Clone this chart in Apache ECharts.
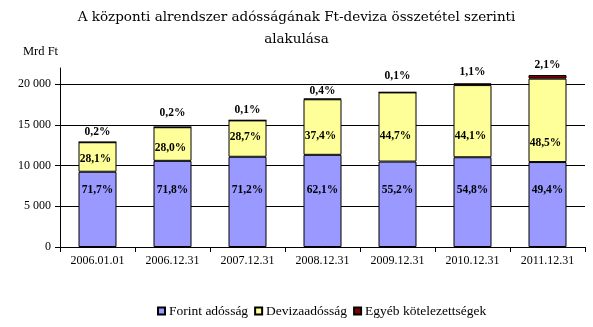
<!DOCTYPE html>
<html>
<head>
<meta charset="utf-8">
<script src="https://cdn.jsdelivr.net/npm/echarts@6/dist/echarts.min.js"></script>
<style>
  html, body { margin: 0; padding: 0; background: #fff; }
  #chart { width: 593px; height: 327px; }
</style>
</head>
<body>
<div id="chart"></div>
<script>
// Central subsystem debt by currency composition (billion HUF)
const categories = ['2006.01.01', '2006.12.31', '2007.12.31', '2008.12.31', '2009.12.31', '2010.12.31', '2011.12.31'];
const forintDebt = [9250, 10590, 11090, 11330, 10500, 11030, 10440];
const fxDebt     = [3625, 4130, 4470, 6825, 8500, 8870, 10250];
const otherLiab  = [26, 30, 16, 73, 19, 221, 444];

// Share labels printed on each segment
const forintShare = ['71,7%', '71,8%', '71,2%', '62,1%', '55,2%', '54,8%', '49,4%'];
const fxShare     = ['28,1%', '28,0%', '28,7%', '37,4%', '44,7%', '44,1%', '48,5%'];
const otherShare  = ['0,2%', '0,2%', '0,1%', '0,4%', '0,1%', '1,1%', '2,1%'];

const seriesNames = ['Forint adósság', 'Devizaadósság', 'Egyéb kötelezettségek'];
const yTicks = [0, 5000, 10000, 15000, 20000];

// Hand-placed label nudges (pixels, downward)
const fxLabelNudge = [1.7, 3.7, -1.9, 9.3, 9.3, 15.1, 22.3];
const otherLabelNudge = [0, -4, 0, 2.5, -6, -1, 0];

const serif = '"Liberation Serif", "Times New Roman", serif';
const wideSerif = '"DejaVu Serif", serif';
const labelFont = { fontFamily: serif, fontWeight: 'bold', fontSize: 11.5, color: '#000' };

function fmtThousands(v) {
  return String(v).replace(/\B(?=(\d{3})+(?!\d))/g, ' ');
}

const chart = echarts.init(document.getElementById('chart'), null, { renderer: 'canvas' });

const barBase = {
  type: 'bar',
  stack: 'total',
  barWidth: 38,
  animation: false
};

chart.setOption({
  backgroundColor: '#fff',
  title: {
    text: 'A központi alrendszer adósságának Ft-deviza összetétel szerinti\nalakulása',
    left: 'center',
    top: 6,
    padding: 0,
    textStyle: { fontFamily: wideSerif, fontWeight: 'normal', fontSize: 13.5, lineHeight: 22, color: '#000' }
  },
  graphic: [{
    type: 'text',
    left: 23,
    top: 45,
    style: { text: 'Mrd Ft', fontFamily: serif, fontSize: 12.5, fill: '#000' }
  }],
  legend: {
    left: 157,
    top: 304,
    padding: 0,
    itemWidth: 7,
    itemHeight: 7,
    itemGap: 6,
    icon: 'rect',
    data: seriesNames,
    textStyle: { fontFamily: serif, fontSize: 13.5, color: '#000', padding: [0, 0, 0, -1] }
  },
  grid: { left: 60, right: 8, top: 68, bottom: 80, containLabel: false },
  xAxis: {
    type: 'category',
    data: categories,
    boundaryGap: true,
    axisLine: { show: true, lineStyle: { color: '#000', width: 1 } },
    axisTick: { show: true, length: 5, lineStyle: { color: '#000' } },
    axisLabel: { margin: 8, fontFamily: serif, fontSize: 12, color: '#000' },
    splitLine: { show: false }
  },
  yAxis: {
    type: 'value',
    min: 0,
    max: 22000,
    interval: 5000,
    axisLine: { show: true, lineStyle: { color: '#000', width: 1 } },
    axisTick: { show: true, length: 5, lineStyle: { color: '#000' } },
    axisLabel: {
      margin: 9,
      fontFamily: serif,
      fontSize: 12,
      color: '#000',
      showMaxLabel: false,
      formatter: v => (yTicks.indexOf(v) >= 0 ? fmtThousands(v) : '')
    },
    splitLine: { show: true, showMaxLine: false, lineStyle: { color: '#000', width: 1 } }
  },
  series: [
    Object.assign({}, barBase, {
      name: seriesNames[0],
      itemStyle: { color: '#9999FF', borderColor: '#000', borderWidth: 1 },
      data: forintDebt.map((v, i) => ({
        value: v,
        label: {
          show: true,
          position: 'insideBottom',
          distance: 51,
          formatter: forintShare[i]
        }
      })),
      label: labelFont
    }),
    Object.assign({}, barBase, {
      name: seriesNames[1],
      itemStyle: { color: '#FFFF99', borderColor: '#000', borderWidth: 1 },
      data: fxDebt.map((v, i) => ({
        value: v,
        label: {
          show: true,
          position: 'inside',
          offset: [-2, fxLabelNudge[i]],
          formatter: fxShare[i]
        }
      })),
      label: labelFont
    }),
    Object.assign({}, barBase, {
      name: seriesNames[2],
      itemStyle: { color: '#800000', borderColor: '#000', borderWidth: 1 },
      data: otherLiab.map((v, i) => ({
        value: v,
        label: {
          show: true,
          position: 'top',
          distance: 4,
          offset: [0, otherLabelNudge[i]],
          formatter: otherShare[i]
        }
      })),
      label: labelFont
    })
  ]
});
</script>
</body>
</html>
